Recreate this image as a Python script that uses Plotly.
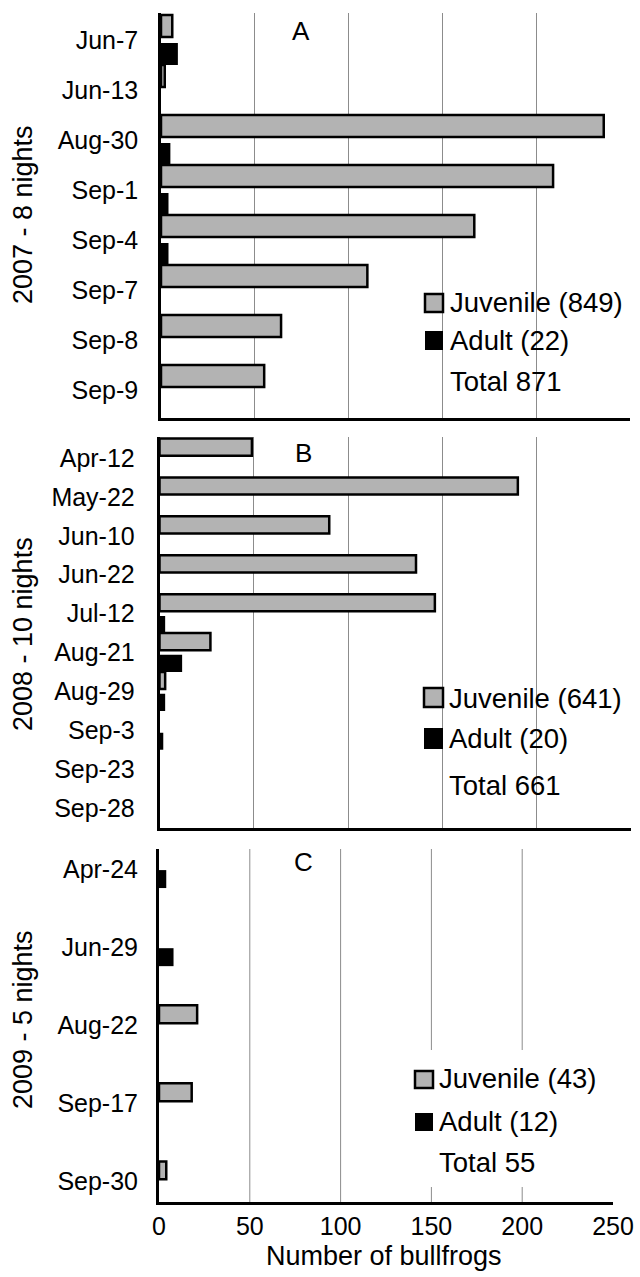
import plotly.graph_objects as go

# ---------------- data ----------------
dates_A = ["Jun-7", "Jun-13", "Aug-30", "Sep-1", "Sep-4", "Sep-7", "Sep-8", "Sep-9"]
juv_A = [6, 2, 236, 209, 167, 110, 64, 55]
adult_A = [9, 0, 5, 4, 4, 0, 0, 0]

dates_B = ["Apr-12", "May-22", "Jun-10", "Jun-22", "Jul-12", "Aug-21", "Aug-29",
           "Sep-3", "Sep-23", "Sep-28"]
juv_B = [49, 190, 90, 136, 146, 27, 3, 0, 0, 0]
adult_B = [0, 0, 0, 0, 3, 12, 3, 2, 0, 0]

dates_C = ["Apr-24", "Jun-29", "Aug-22", "Sep-17", "Sep-30"]
juv_C = [0, 0, 21, 18, 4]
adult_C = [4, 8, 0, 0, 0]

panel_titles = ["2007 - 8 nights", "2008 - 10 nights", "2009 - 5 nights"]
panel_letters = ["A", "B", "C"]
legend_juv = ["Juvenile (849)", "Juvenile (641)", "Juvenile (43)"]
legend_adult = ["Adult (22)", "Adult (20)", "Adult (12)"]
legend_total = ["Total 871", "Total 661", "Total 55"]
x_ticks = [0, 50, 100, 150, 200, 250]
x_title = "Number of bullfrogs"

# ---------------- layout helpers ----------------
W, H = 640, 1277
FONT = "Liberation Sans, Arial, sans-serif"
GRAY = "#b3b3b3"
GRID = "#8c8c8c"


def X(px):
    return px / W


def Y(py):
    return 1 - py / H


fig = go.Figure()

panels = [
    dict(dates=dates_A, juv=juv_A, adult=adult_A, xd=(161, 630), yd=(13, 418),
         yr=[7.56, -0.54], joff=-0.5, jw=0.44, aoff=0.06, aw=0.44, lw=2.5, tl=15),
    dict(dates=dates_B, juv=juv_B, adult=adult_B, xd=(159.5, 631), yd=(437, 828),
         yr=[9.51, -0.54], joff=-0.5, jw=0.44, aoff=0.06, aw=0.44, lw=2.5, tl=17),
    dict(dates=dates_C, juv=juv_C, adult=adult_C, xd=(159, 613), yd=(849, 1202),
         yr=[4.26, -0.26], joff=-0.26, jw=0.23, aoff=0.01, aw=0.23, lw=3, tl=13),
]

for i, p in enumerate(panels):
    n = "" if i == 0 else str(i + 1)
    xa, ya = "x" + n, "y" + n
    fig.add_trace(go.Bar(
        y=p["dates"], x=p["juv"], orientation="h", xaxis=xa, yaxis=ya,
        offset=p["joff"], width=p["jw"], name="Juvenile",
        marker=dict(color=GRAY, line=dict(color="black",
                                          width=[2.5 if v > 0 else 0 for v in p["juv"]])),
        showlegend=False))
    fig.add_trace(go.Bar(
        y=p["dates"], x=p["adult"], orientation="h", xaxis=xa, yaxis=ya,
        offset=p["aoff"], width=p["aw"], name="Adult",
        marker=dict(color="black", line=dict(color="black", width=0)),
        showlegend=False))

    last = (i == 2)
    xaxis = dict(
        domain=[X(p["xd"][0]), X(p["xd"][1])], range=[0, 250],
        anchor=ya, showline=True, linecolor="black", linewidth=p["lw"],
        zeroline=False, fixedrange=True, automargin=False,
        tickfont=dict(family=FONT, size=25, color="black"),
    )
    if last:
        xaxis.update(tickvals=x_ticks, showticklabels=True, showgrid=False, ticks="")
    else:
        xaxis.update(tickvals=x_ticks[1:], showticklabels=False, showgrid=True,
                     gridcolor=GRID, gridwidth=1, ticks="")
    yaxis = dict(
        domain=[Y(p["yd"][1]), Y(p["yd"][0])], range=p["yr"],
        anchor=xa, type="category", showline=True, linecolor="black",
        linewidth=p["lw"], showgrid=False, zeroline=False, fixedrange=True,
        automargin=False,
        ticks="outside", ticklen=p["tl"], tickcolor="rgba(0,0,0,0)",
        tickfont=dict(family=FONT, size=25, color="black"),
    )
    fig.update_layout(**{"xaxis" + n: xaxis, "yaxis" + n: yaxis})

shapes = []
annotations = []

# gridlines for panel C (no line at 250)
for v in x_ticks[1:-1]:
    shapes.append(dict(type="line", xref="x3", yref="y3 domain", x0=v, x1=v,
                       y0=0, y1=1, line=dict(color=GRID, width=1), layer="below"))

# legend boxes
leg = [
    dict(box=(420, 628, 283, 403), sq=(425, 443), jy=(294, 312), ay=(331, 350),
         tx=449, ty=(303, 340, 382)),
    dict(box=(420, 629, 682, 811), sq=(424, 443), jy=(688, 707), ay=(728, 749),
         tx=448, ty=(698, 738, 785)),
    dict(box=(405, 611, 1050, 1187), sq=(415, 433), jy=(1071, 1088), ay=(1113, 1131),
         tx=438, ty=(1078, 1121, 1162)),
]
for i, L in enumerate(leg):
    b = L["box"]
    shapes.append(dict(type="rect", xref="paper", yref="paper",
                       x0=X(b[0]), x1=X(b[1]), y0=Y(b[3]), y1=Y(b[2]),
                       fillcolor="white", line=dict(width=0), layer="between"))
    shapes.append(dict(type="rect", xref="paper", yref="paper",
                       x0=X(L["sq"][0]), x1=X(L["sq"][1]),
                       y0=Y(L["jy"][1]), y1=Y(L["jy"][0]),
                       fillcolor=GRAY, line=dict(color="black", width=2.5), layer="above"))
    shapes.append(dict(type="rect", xref="paper", yref="paper",
                       x0=X(L["sq"][0]), x1=X(L["sq"][1]),
                       y0=Y(L["ay"][1]), y1=Y(L["ay"][0]),
                       fillcolor="black", line=dict(color="black", width=0), layer="above"))
    for txt, yy in zip([legend_juv[i], legend_adult[i], legend_total[i]], L["ty"]):
        annotations.append(dict(text=txt, xref="paper", yref="paper",
                                x=X(L["tx"]), y=Y(yy), xanchor="left", yanchor="middle",
                                showarrow=False, borderpad=0,
                                font=dict(family=FONT, size=27.5, color="black")))

# panel letters
for letter, (lx, ly) in zip(panel_letters, [(301, 31), (303, 453), (303, 862)]):
    annotations.append(dict(text=letter, xref="paper", yref="paper", x=X(lx), y=Y(ly),
                            xanchor="center", yanchor="middle", showarrow=False,
                            font=dict(family=FONT, size=26, color="black")))

# y-axis titles
for t, cy in zip(panel_titles, [215, 634, 1020]):
    annotations.append(dict(text=t, xref="paper", yref="paper", x=X(23), y=Y(cy),
                            xanchor="center", yanchor="middle", textangle=-90,
                            showarrow=False,
                            font=dict(family=FONT, size=27, color="black")))

# x-axis title
annotations.append(dict(text=x_title, xref="paper", yref="paper", x=X(384), y=Y(1256),
                        xanchor="center", yanchor="middle", showarrow=False,
                        font=dict(family=FONT, size=27, color="black")))

fig.update_layout(
    width=W, height=H, margin=dict(l=0, r=0, t=0, b=0, autoexpand=False),
    paper_bgcolor="white", plot_bgcolor="white", barmode="overlay",
    shapes=shapes, annotations=annotations, showlegend=False,
    font=dict(family=FONT, color="black"),
)

post = ("document.body.style.margin='0';document.body.style.padding='0';"
        "document.documentElement.style.overflow='hidden';"
        "document.body.style.overflow='hidden';")

fig.write_html("out.html", config={"displayModeBar": False, "responsive": False},
               post_script=post)
